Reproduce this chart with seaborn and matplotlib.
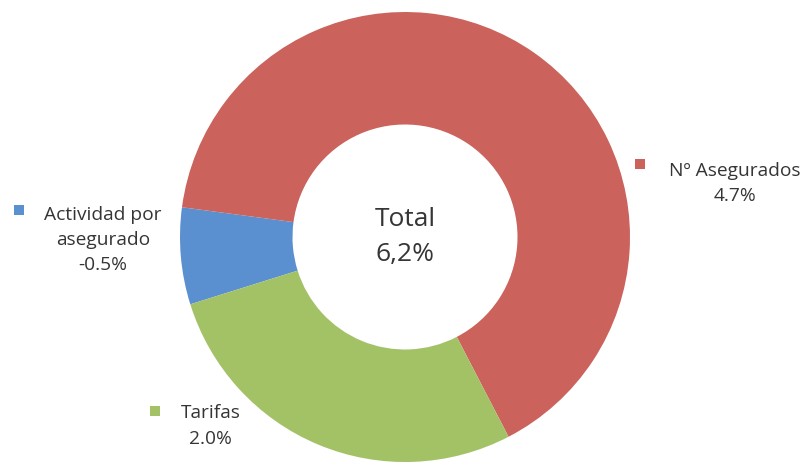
import matplotlib
matplotlib.use("Agg")
import matplotlib.pyplot as plt
import seaborn as sns

# Data
categories = ["Actividad por\nasegurado", "Nº Asegurados", "Tarifas"]
values = [-0.5, 4.7, 2.0]
value_labels = ["-0.5%", "4.7%", "2.0%"]
colors = ["#5A8FD0", "#CB625C", "#A3C266"]
total_label = ["Total", "6,2%"]

sns.set_theme(style="white")
plt.rcParams["font.family"] = ["Open Sans", "DejaVu Sans"]

W, H = 810, 465
fig = plt.figure(figsize=(W / 100, H / 100), dpi=100)
cx, cy, R = 405, 237, 225
ax = fig.add_axes([(cx - R) / W, (H - cy - R) / H, 2 * R / W, 2 * R / H])

sizes = [abs(v) for v in values]
ax.pie(sizes, colors=colors, startangle=197.4, counterclock=False,
       radius=1.0, wedgeprops=dict(width=0.5, edgecolor="none"))
ax.set_xlim(-1, 1)
ax.set_ylim(-1, 1)
ax.set_aspect("equal")
ax.axis("off")

txt_color = "#353535"
fs = 13.8

# label positions (data coords of pie)
label_pos = [(-1.342, -0.015), (1.465, 0.24), (-0.865, -0.84)]
marker_pos = [(-1.716, 0.12), (1.044, 0.325), (-1.11, -0.775)]

for cat, vl, col, (tx, ty), (mx, my) in zip(categories, value_labels, colors, label_pos, marker_pos):
    ax.text(tx, ty, f"{cat}\n{vl}", ha="center", va="center", fontsize=fs,
            color=txt_color, linespacing=1.5, clip_on=False)
    ax.scatter([mx], [my], marker="s", s=60, color=col, clip_on=False, linewidths=0)

ax.text(0, 0.0, "\n".join(total_label), ha="center", va="center", fontsize=19,
        color=txt_color, linespacing=1.5)

fig.savefig("out.png", dpi=100, facecolor="white")
